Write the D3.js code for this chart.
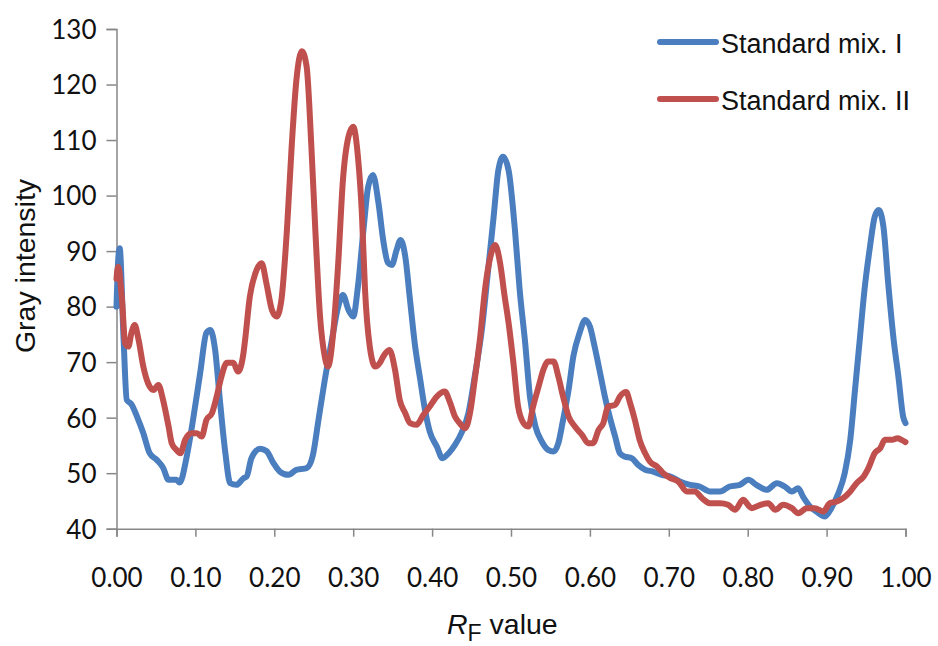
<!DOCTYPE html>
<html>
<head>
<meta charset="utf-8">
<script src="https://cdn.jsdelivr.net/npm/d3@7"></script>
<style>
  body { margin: 0; background: #fff; }
  svg { display: block; }
</style>
</head>
<body>
<svg id="chart"></svg>
<script>
// Rf positions and gray intensity
const rfMix1 = [0.000, 0.002, 0.004, 0.009, 0.013, 0.019, 0.026, 0.034, 0.042, 0.051, 0.059, 0.066, 0.076, 0.080,
  0.089, 0.097, 0.106, 0.114, 0.119, 0.125, 0.131, 0.138, 0.144, 0.152, 0.161, 0.165, 0.171, 0.182, 0.190, 0.199,
  0.207, 0.218, 0.228, 0.241, 0.249, 0.256, 0.264, 0.273, 0.281, 0.287, 0.294, 0.300, 0.306, 0.313, 0.319, 0.325,
  0.332, 0.338, 0.344, 0.349, 0.355, 0.360, 0.366, 0.372, 0.378, 0.385, 0.391, 0.397, 0.406, 0.413, 0.421, 0.429,
  0.438, 0.446, 0.454, 0.463, 0.471, 0.478, 0.484, 0.490, 0.497, 0.505, 0.511, 0.518, 0.524, 0.531, 0.539, 0.547,
  0.554, 0.560, 0.566, 0.573, 0.579, 0.587, 0.594, 0.600, 0.606, 0.613, 0.619, 0.625, 0.632, 0.638, 0.644, 0.653,
  0.661, 0.670, 0.680, 0.691, 0.702, 0.714, 0.727, 0.739, 0.752, 0.765, 0.777, 0.790, 0.801, 0.811, 0.824, 0.837,
  0.847, 0.856, 0.864, 0.870, 0.879, 0.887, 0.898, 0.906, 0.915, 0.923, 0.930, 0.936, 0.942, 0.948, 0.955, 0.961,
  0.966, 0.972, 0.978, 0.985, 0.991, 0.997, 1.000];
const mix1 = [80, 88, 90.5, 74, 63.2, 62.4, 60.2, 57.2, 53.6, 52.4, 51, 48.8, 48.8, 48.3,
  53, 59.6, 68, 75.3, 75.8, 72.2, 63.2, 53.6, 48.2, 47.9, 49.1, 49.4, 52.7, 54.4, 54, 51.8,
  50.3, 49.7, 50.6, 50.9, 53.3, 59.6, 66.8, 74, 80, 82.1, 79.4, 78.2, 83.6, 93.8, 101.6, 103.7,
  98.7, 92, 87.9, 87.5, 90.2, 92, 89, 81.2, 73.4, 66.8, 61.4, 57.5, 54.8, 52.7, 53.6, 55.1,
  57.5, 60.8, 67.4, 75.8, 86.6, 96.2, 104.6, 107, 104.5, 93.8, 83, 73.4, 63.8, 58.4, 55.7, 54.2,
  53.9, 55.4, 59.6, 65, 71, 75.3, 77.6, 76.4, 72.8, 68, 63.8, 60.2, 56.6, 53.6, 53, 52.7,
  51.5, 50.6, 50.3, 49.7, 49.4, 48.5, 47.9, 47.6, 46.7, 46.7, 47.6, 47.9, 48.8, 47.9, 47, 48.2,
  47.6, 46.7, 47.3, 45.8, 44, 43.1, 42.2, 43.7, 46.4, 50, 56, 65, 74, 83, 90.8, 96.2,
  97.4, 94.4, 84.3, 74, 67.4, 60.2, 59];

const rfMix2 = [0.000, 0.002, 0.007, 0.011, 0.015, 0.019, 0.023, 0.028, 0.034, 0.040, 0.047, 0.053, 0.059, 0.066,
  0.070, 0.076, 0.081, 0.087, 0.095, 0.102, 0.108, 0.114, 0.121, 0.127, 0.133, 0.140, 0.148, 0.154, 0.161, 0.163,
  0.169, 0.176, 0.184, 0.190, 0.197, 0.203, 0.209, 0.216, 0.222, 0.228, 0.235, 0.241, 0.247, 0.252, 0.258, 0.264,
  0.268, 0.275, 0.281, 0.287, 0.294, 0.300, 0.306, 0.311, 0.315, 0.321, 0.328, 0.334, 0.338, 0.346, 0.353, 0.359,
  0.366, 0.372, 0.380, 0.389, 0.397, 0.406, 0.416, 0.423, 0.429, 0.435, 0.442, 0.448, 0.454, 0.461, 0.467, 0.473,
  0.480, 0.486, 0.492, 0.497, 0.503, 0.509, 0.516, 0.522, 0.528, 0.535, 0.541, 0.547, 0.554, 0.560, 0.566, 0.573,
  0.581, 0.590, 0.598, 0.604, 0.611, 0.617, 0.623, 0.632, 0.638, 0.646, 0.651, 0.657, 0.663, 0.670, 0.676, 0.685,
  0.693, 0.702, 0.712, 0.723, 0.733, 0.742, 0.752, 0.765, 0.775, 0.784, 0.794, 0.805, 0.816, 0.826, 0.835, 0.845,
  0.856, 0.864, 0.875, 0.885, 0.896, 0.904, 0.913, 0.921, 0.930, 0.938, 0.947, 0.953, 0.961, 0.968, 0.974, 0.983,
  0.990, 0.995, 1.000];
const mix2 = [85, 87.2, 81.2, 73.4, 72.8, 75.3, 76.7, 74, 69.2, 66.2, 65, 65.9, 63.2, 58.4,
  55.4, 54.2, 53.6, 56, 57.2, 57.2, 56.6, 59.6, 60.8, 63.8, 67.4, 69.9, 69.9, 68.3, 71.7, 74,
  81.8, 86, 87.8, 84.2, 79.4, 78.2, 81.2, 93.8, 108.8, 120.8, 126, 123.2, 108.8, 93.8, 78.2, 71,
  69.2, 75.8, 87.8, 102.8, 110.6, 112.4, 107, 96.8, 83, 72.8, 69.2, 69.9, 71, 72.2, 68.6, 63.2,
  60.8, 59, 58.7, 60.5, 62, 63.8, 64.7, 62.6, 60.2, 59, 58.1, 60.8, 66.8, 74.6, 83, 88.4,
  91.1, 88, 81.8, 77, 69.9, 62, 59, 58.4, 62, 65.6, 68.6, 70.1, 70.1, 67.4, 63.8, 60.2,
  58.4, 56.9, 55.4, 55.4, 57.8, 59, 62, 62.3, 63.8, 64.6, 62.6, 59.6, 56, 53.6, 52.1, 51.2,
  50, 49.1, 48.5, 46.7, 46.7, 45.5, 44.6, 44.6, 44.3, 43.4, 45.2, 43.7, 44.3, 44.6, 43.4, 44.3,
  43.7, 42.8, 43.7, 43.7, 43.1, 44.6, 44.9, 45.5, 46.7, 48.2, 49.4, 50.9, 53.6, 54.5, 56, 56,
  56.3, 56, 55.6];

const seriesNames = ["Standard mix. I", "Standard mix. II"];
const seriesColors = ["#4a7ebf", "#c0504d"];
const xTicks = [0, 0.1, 0.2, 0.3, 0.4, 0.5, 0.6, 0.7, 0.8, 0.9, 1.0];
const yTicks = [40, 50, 60, 70, 80, 90, 100, 110, 120, 130];

const width = 938, height = 646;
const svg = d3.select("#chart").attr("width", width).attr("height", height);

const x = d3.scaleLinear().domain([0, 1]).range([116.5, 905.5]);
const y = d3.scaleLinear().domain([40, 130]).range([528.7, 29]);

const axisColor = "#878787";
const tickFont = "Lato, 'Open Sans', sans-serif";
const textFont = "'Liberation Sans', Arial, sans-serif";

// y axis
const yAxis = svg.append("g")
  .attr("transform", `translate(${x(0)},0)`)
  .call(d3.axisLeft(y).tickValues(yTicks).tickSize(10).tickPadding(10).tickFormat(d3.format("d")));
yAxis.select(".domain").attr("stroke", axisColor).attr("stroke-width", 1.5);
yAxis.selectAll(".tick line").attr("stroke", axisColor).attr("stroke-width", 1.5);
yAxis.selectAll(".tick text")
  .attr("dy", "0.36em")
  .style("font-family", tickFont).style("font-size", "26px").attr("fill", "#111");

// x axis
const xAxis = svg.append("g")
  .attr("transform", `translate(0,${y(40)})`)
  .call(d3.axisBottom(x).tickValues(xTicks).tickSize(8).tickFormat(d3.format(".2f")));
xAxis.select(".domain").attr("stroke", axisColor).attr("stroke-width", 1.5);
xAxis.selectAll(".tick line").attr("stroke", axisColor).attr("stroke-width", 1.5);
xAxis.selectAll(".tick text")
  .attr("y", 58).attr("dy", "0")
  .style("font-family", tickFont).style("font-size", "26px").attr("fill", "#111");

// axis titles
svg.append("text")
  .attr("transform", "translate(35,266) rotate(-90)")
  .attr("text-anchor", "middle")
  .style("font-family", textFont).style("font-size", "28.5px").attr("fill", "#111")
  .text("Gray intensity");

const xt = svg.append("text")
  .attr("x", 447).attr("y", 634)
  .style("font-family", textFont).style("font-size", "28.5px").attr("fill", "#111");
xt.append("tspan").style("font-style", "italic").text("R");
xt.append("tspan").attr("dy", 7).style("font-size", "23px").text("F");
xt.append("tspan").attr("dy", -7).text(" value");

// lines
const line = d3.line()
  .x(d => x(d[0]))
  .y(d => y(d[1]))
  .curve(d3.curveMonotoneX);

const series = [d3.zip(rfMix1, mix1), d3.zip(rfMix2, mix2)];

svg.selectAll(".series")
  .data(series)
  .enter()
  .append("path")
  .attr("class", "series")
  .attr("d", line)
  .attr("fill", "none")
  .attr("stroke", (d, i) => seriesColors[i])
  .attr("stroke-width", 6)
  .attr("stroke-linejoin", "round")
  .attr("stroke-linecap", "round");

// legend
const legend = svg.selectAll(".legend")
  .data(seriesNames)
  .enter()
  .append("g")
  .attr("class", "legend")
  .attr("transform", (d, i) => `translate(660,${42 + i * 57})`);

legend.append("line")
  .attr("x1", 0).attr("x2", 56)
  .attr("stroke", (d, i) => seriesColors[i])
  .attr("stroke-width", 6)
  .attr("stroke-linecap", "round");

legend.append("text")
  .attr("x", 61).attr("y", 10.5)
  .style("font-family", textFont).style("font-size", "27px").attr("fill", "#111")
  .text(d => d);
</script>
</body>
</html>
